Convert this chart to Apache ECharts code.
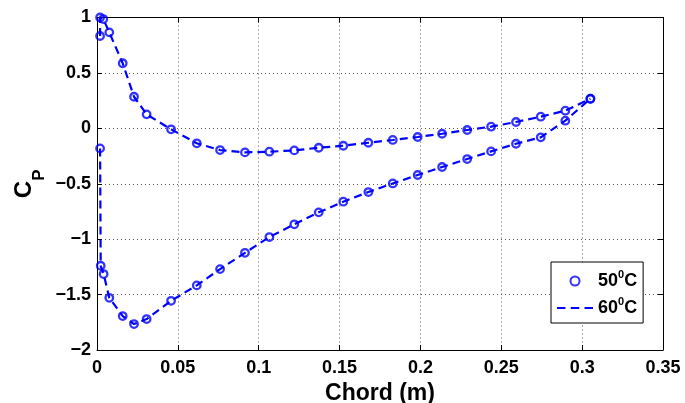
<!DOCTYPE html>
<html>
<head>
<meta charset="utf-8">
<script src="https://cdn.jsdelivr.net/npm/echarts@6/dist/echarts.min.js"></script>
<style>html,body{margin:0;padding:0;background:#fff;}#c{width:685px;height:403px;}</style>
</head>
<body>
<div id="c"></div>
<script>
// Tick settings
const xTicks = [0, 0.05, 0.1, 0.15, 0.2, 0.25, 0.3, 0.35];
const yTicks = [-2, -1.5, -1, -0.5, 0, 0.5, 1];

// Upper surface (50 C markers)
const xUpper50 = [0.0019, 0.0019, 0.0039, 0.0076, 0.0159, 0.0229, 0.0307, 0.0458, 0.0617, 0.0761, 0.0915, 0.1066, 0.1220, 0.1371, 0.1523, 0.1678, 0.1829, 0.1983, 0.2134, 0.2289, 0.2437, 0.2591, 0.2744, 0.2896, 0.3051];
const cpUpper50 = [0.833, 1.000, 0.986, 0.866, 0.587, 0.285, 0.126, -0.009, -0.135, -0.196, -0.217, -0.211, -0.199, -0.175, -0.157, -0.130, -0.105, -0.078, -0.049, -0.015, 0.015, 0.057, 0.105, 0.159, 0.267];
// Lower surface (50 C markers)
const xLower50 = [0.0019, 0.0023, 0.0041, 0.0076, 0.0159, 0.0229, 0.0307, 0.0458, 0.0617, 0.0761, 0.0915, 0.1066, 0.1220, 0.1371, 0.1523, 0.1678, 0.1829, 0.1983, 0.2134, 0.2289, 0.2437, 0.2591, 0.2744, 0.2896, 0.3051];
const cpLower50 = [-0.181, -1.240, -1.315, -1.529, -1.694, -1.766, -1.721, -1.556, -1.417, -1.270, -1.123, -0.981, -0.866, -0.758, -0.662, -0.575, -0.497, -0.421, -0.349, -0.277, -0.208, -0.139, -0.081, 0.069, 0.267];

// 60 C dashed curves
const xUpper60 = [0.0019, 0.0019, 0.0039, 0.0076, 0.0159, 0.0229, 0.0307, 0.0458, 0.0617, 0.0761, 0.0915, 0.1066, 0.1220, 0.1371, 0.1523, 0.1678, 0.1829, 0.1983, 0.2134, 0.2289, 0.2437, 0.2591, 0.2744, 0.2896, 0.3051];
const cpUpper60 = [0.833, 1.000, 0.986, 0.866, 0.587, 0.285, 0.126, -0.009, -0.135, -0.196, -0.217, -0.211, -0.199, -0.175, -0.157, -0.130, -0.105, -0.078, -0.049, -0.015, 0.015, 0.057, 0.105, 0.159, 0.267];
const xLower60 = [0.0019, 0.0023, 0.0041, 0.0076, 0.0159, 0.0229, 0.0307, 0.0458, 0.0617, 0.0761, 0.0915, 0.1066, 0.1220, 0.1371, 0.1523, 0.1678, 0.1829, 0.1983, 0.2134, 0.2289, 0.2437, 0.2591, 0.2744, 0.2896, 0.3051];
const cpLower60 = [-0.181, -1.240, -1.315, -1.529, -1.694, -1.766, -1.721, -1.556, -1.417, -1.270, -1.123, -0.981, -0.866, -0.758, -0.662, -0.575, -0.497, -0.421, -0.349, -0.277, -0.208, -0.139, -0.081, 0.069, 0.267];

const name50 = '50⁰C';
const name60 = '60⁰C';

const zip = (xs, ys) => xs.map((x, i) => [x, ys[i]]);
const blue = '#0000ff';
const font = 'Liberation Sans, Arial, Helvetica, sans-serif';

const chart = echarts.init(document.getElementById('c'), null, {renderer: 'canvas'});

const commonX = {
  type: 'value', min: xTicks[0], max: xTicks[xTicks.length - 1], interval: 0.05,
  axisLine: {show: true, onZero: false, lineStyle: {color: '#000', width: 1}},
  axisTick: {show: true, inside: true, length: 5, lineStyle: {color: '#000'}}
};
const commonY = {
  type: 'value', min: yTicks[0], max: yTicks[yTicks.length - 1], interval: 0.5,
  axisLine: {show: true, onZero: false, lineStyle: {color: '#000', width: 1}},
  axisTick: {show: true, inside: true, length: 5, lineStyle: {color: '#000'}}
};

chart.setOption({
  animation: false,
  backgroundColor: '#fff',
  grid: {left: 97, top: 17.5, right: 22, bottom: 53, containLabel: false, outerBoundsMode: 'none'},
  graphic: [
    {type: 'text', x: 24, y: 189.5, rotation: Math.PI / 2,
      style: {text: 'C', fontFamily: font, fontWeight: 'bold', fontSize: 24, fill: '#000', align: 'center', verticalAlign: 'middle'}},
    {type: 'text', x: 39, y: 175, rotation: Math.PI / 2,
      style: {text: 'P', fontFamily: font, fontWeight: 'bold', fontSize: 17, fill: '#000', align: 'center', verticalAlign: 'middle'}}
  ],
  xAxis: [
    Object.assign({}, commonX, {
      position: 'bottom',
      name: 'Chord (m)', nameLocation: 'middle', nameGap: 18,
      nameTextStyle: {fontFamily: font, fontWeight: 'bold', fontSize: 23, color: '#000'},
      axisLabel: {show: true, margin: 9, fontFamily: font, fontWeight: 'bold', fontSize: 18, color: '#000',
        formatter: v => String(+v.toFixed(2))},
      splitLine: {show: true, lineStyle: {type: [1, 3], color: '#555', width: 1}}
    }),
    Object.assign({}, commonX, {
      position: 'top', axisLabel: {show: false}, splitLine: {show: false}
    })
  ],
  yAxis: [
    Object.assign({}, commonY, {
      position: 'left',
      axisLabel: {show: true, margin: 6, fontFamily: font, fontWeight: 'bold', fontSize: 18, color: '#000',
        formatter: v => String(+v.toFixed(2)).replace('-', '\u2212')},
      splitLine: {show: true, lineStyle: {type: [1, 3], color: '#555', width: 1}}
    }),
    Object.assign({}, commonY, {
      position: 'right', axisLabel: {show: false}, splitLine: {show: false}
    })
  ],
  legend: {
    show: true, orient: 'vertical', left: 551, top: 262,
    data: [
      {name: name50},
      {name: name60, icon: 'path://M0,0H8V2H0Z M13,0H21V2H13Z M26,0H34V2H26Z'}
    ],
    backgroundColor: '#fff', borderColor: '#000', borderWidth: 1, borderRadius: 0,
    padding: [7, 6, 6, 6], itemGap: 6, itemWidth: 36, itemHeight: 9,
    formatter: n => '{n|' + n.slice(0, 2) + '}{s|0}{n|C}',
    textStyle: {
      color: '#000',
      rich: {
        n: {fontFamily: font, fontWeight: 'bold', fontSize: 18, lineHeight: 24, color: '#000'},
        s: {fontFamily: font, fontWeight: 'bold', fontSize: 11, lineHeight: 11, verticalAlign: 'top', color: '#000'}
      }
    }
  },
  series: [
    {
      name: name50, type: 'scatter', xAxisIndex: 0, yAxisIndex: 0,
      data: zip(xUpper50, cpUpper50).concat(zip(xLower50, cpLower50)),
      symbol: 'circle', symbolSize: 7.5,
      itemStyle: {color: 'transparent', borderColor: blue, borderWidth: 2.3},
      z: 3
    },
    {
      name: name60, type: 'line', xAxisIndex: 0, yAxisIndex: 0,
      data: zip(xUpper60, cpUpper60),
      showSymbol: false, symbol: 'none',
      lineStyle: {color: blue, width: 2.2, type: [8, 5]},
      itemStyle: {color: blue},
      z: 2
    },
    {
      name: name60, type: 'line', xAxisIndex: 0, yAxisIndex: 0,
      data: zip(xLower60, cpLower60),
      showSymbol: false, symbol: 'none',
      lineStyle: {color: blue, width: 2.2, type: [8, 5]},
      itemStyle: {color: blue},
      z: 2
    }
  ]
});
</script>
</body>
</html>
